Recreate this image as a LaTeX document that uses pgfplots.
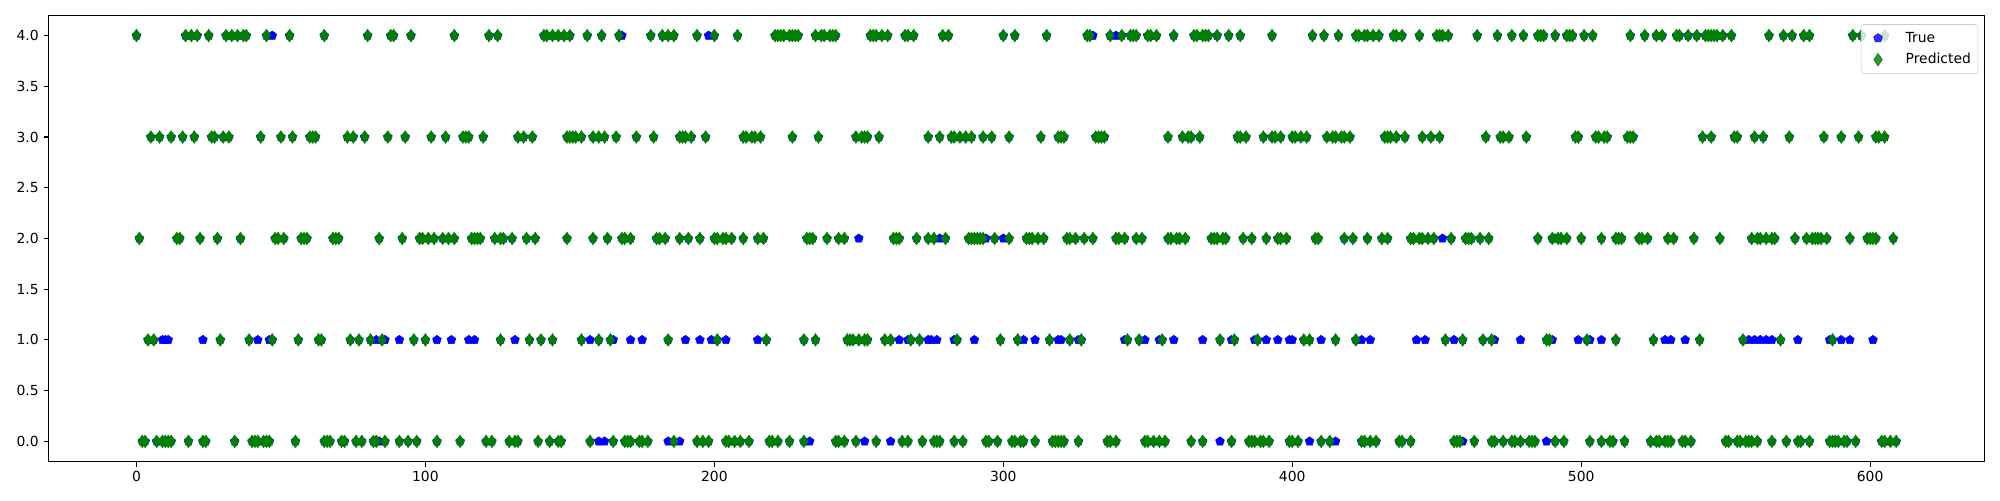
\documentclass[border=0pt]{standalone}
\usepackage{pgfplots}
\pgfplotsset{compat=1.18}
\usepackage{pgfplotstable}
\usepackage{fontspec}
\setmainfont{DejaVu Sans}
\definecolor{mplgreen}{RGB}{0,128,0}
\definecolor{mplblue}{RGB}{0,0,255}

% Predicted class for each sample
\pgfplotstableread[row sep=\\]{
x y\\
0 4\\ 17 4\\ 19 4\\ 21 4\\ 25 4\\ 31 4\\ 33 4\\ 35 4\\ 37 4\\ 38 4\\ 45 4\\ 53 4\\ 65 4\\ 80 4\\ 88 4\\ 89 4\\ 95 4\\ 110 4\\ 122 4\\ 125 4\\ 141 4\\ 142 4\\ 144 4\\ 146 4\\ 148 4\\ 150 4\\ 156 4\\ 161 4\\ 167 4\\ 178 4\\ 182 4\\ 184 4\\ 186 4\\ 194 4\\ 200 4\\ 208 4\\ 221 4\\ 222 4\\ 223 4\\ 224 4\\ 226 4\\ 227 4\\ 228 4\\ 229 4\\ 235 4\\ 237 4\\ 238 4\\ 240 4\\ 241 4\\ 242 4\\ 254 4\\ 255 4\\ 256 4\\ 258 4\\ 260 4\\ 266 4\\ 267 4\\ 269 4\\ 279 4\\ 281 4\\ 300 4\\ 304 4\\ 315 4\\ 329 4\\ 330 4\\ 337 4\\ 341 4\\ 344 4\\ 345 4\\ 346 4\\ 350 4\\ 351 4\\ 353 4\\ 359 4\\ 366 4\\ 367 4\\ 369 4\\ 370 4\\ 371 4\\ 374 4\\ 378 4\\ 382 4\\ 393 4\\ 407 4\\ 411 4\\ 416 4\\ 422 4\\ 423 4\\ 425 4\\ 426 4\\ 428 4\\ 430 4\\ 435 4\\ 436 4\\ 438 4\\ 444 4\\ 450 4\\ 451 4\\ 452 4\\ 454 4\\ 464 4\\ 471 4\\ 476 4\\ 480 4\\ 485 4\\ 486 4\\ 487 4\\ 491 4\\ 495 4\\ 496 4\\ 497 4\\ 501 4\\ 504 4\\ 517 4\\ 522 4\\ 526 4\\ 528 4\\ 533 4\\ 534 4\\ 537 4\\ 540 4\\ 543 4\\ 544 4\\ 545 4\\ 546 4\\ 547 4\\ 549 4\\ 552 4\\ 565 4\\ 570 4\\ 573 4\\ 577 4\\ 579 4\\ 594 4\\ 597 4\\ 605 4\\
5 3\\ 8 3\\ 12 3\\ 16 3\\ 20 3\\ 26 3\\ 27 3\\ 30 3\\ 32 3\\ 43 3\\ 50 3\\ 54 3\\ 60 3\\ 61 3\\ 62 3\\ 73 3\\ 75 3\\ 79 3\\ 87 3\\ 93 3\\ 102 3\\ 107 3\\ 113 3\\ 114 3\\ 115 3\\ 120 3\\ 132 3\\ 134 3\\ 137 3\\ 149 3\\ 150 3\\ 151 3\\ 152 3\\ 154 3\\ 158 3\\ 160 3\\ 162 3\\ 166 3\\ 173 3\\ 179 3\\ 188 3\\ 189 3\\ 190 3\\ 192 3\\ 197 3\\ 210 3\\ 211 3\\ 213 3\\ 214 3\\ 216 3\\ 227 3\\ 236 3\\ 249 3\\ 251 3\\ 252 3\\ 253 3\\ 257 3\\ 274 3\\ 278 3\\ 282 3\\ 283 3\\ 285 3\\ 287 3\\ 289 3\\ 293 3\\ 296 3\\ 302 3\\ 313 3\\ 319 3\\ 320 3\\ 321 3\\ 332 3\\ 333 3\\ 334 3\\ 335 3\\ 357 3\\ 362 3\\ 364 3\\ 365 3\\ 368 3\\ 381 3\\ 382 3\\ 384 3\\ 390 3\\ 393 3\\ 394 3\\ 396 3\\ 400 3\\ 401 3\\ 403 3\\ 405 3\\ 412 3\\ 414 3\\ 415 3\\ 417 3\\ 418 3\\ 420 3\\ 432 3\\ 433 3\\ 434 3\\ 436 3\\ 439 3\\ 445 3\\ 448 3\\ 451 3\\ 467 3\\ 472 3\\ 473 3\\ 475 3\\ 481 3\\ 498 3\\ 499 3\\ 505 3\\ 506 3\\ 508 3\\ 509 3\\ 516 3\\ 517 3\\ 518 3\\ 542 3\\ 545 3\\ 553 3\\ 554 3\\ 560 3\\ 563 3\\ 572 3\\ 584 3\\ 590 3\\ 596 3\\ 602 3\\ 603 3\\ 605 3\\
1 2\\ 14 2\\ 15 2\\ 22 2\\ 28 2\\ 36 2\\ 48 2\\ 49 2\\ 51 2\\ 57 2\\ 58 2\\ 59 2\\ 68 2\\ 69 2\\ 70 2\\ 84 2\\ 92 2\\ 98 2\\ 99 2\\ 101 2\\ 103 2\\ 106 2\\ 108 2\\ 110 2\\ 116 2\\ 117 2\\ 118 2\\ 119 2\\ 124 2\\ 126 2\\ 127 2\\ 130 2\\ 135 2\\ 138 2\\ 149 2\\ 158 2\\ 163 2\\ 168 2\\ 169 2\\ 171 2\\ 180 2\\ 181 2\\ 183 2\\ 188 2\\ 191 2\\ 195 2\\ 200 2\\ 201 2\\ 203 2\\ 204 2\\ 206 2\\ 210 2\\ 215 2\\ 217 2\\ 232 2\\ 233 2\\ 234 2\\ 239 2\\ 243 2\\ 245 2\\ 262 2\\ 263 2\\ 264 2\\ 270 2\\ 274 2\\ 276 2\\ 280 2\\ 288 2\\ 289 2\\ 290 2\\ 291 2\\ 292 2\\ 293 2\\ 297 2\\ 302 2\\ 308 2\\ 309 2\\ 310 2\\ 312 2\\ 314 2\\ 322 2\\ 323 2\\ 325 2\\ 328 2\\ 331 2\\ 339 2\\ 340 2\\ 342 2\\ 346 2\\ 348 2\\ 357 2\\ 358 2\\ 360 2\\ 361 2\\ 363 2\\ 372 2\\ 373 2\\ 374 2\\ 376 2\\ 377 2\\ 383 2\\ 386 2\\ 391 2\\ 395 2\\ 396 2\\ 398 2\\ 408 2\\ 409 2\\ 418 2\\ 421 2\\ 426 2\\ 431 2\\ 433 2\\ 441 2\\ 442 2\\ 444 2\\ 445 2\\ 447 2\\ 449 2\\ 455 2\\ 460 2\\ 461 2\\ 462 2\\ 465 2\\ 468 2\\ 485 2\\ 490 2\\ 492 2\\ 493 2\\ 495 2\\ 500 2\\ 507 2\\ 512 2\\ 513 2\\ 514 2\\ 520 2\\ 521 2\\ 523 2\\ 530 2\\ 532 2\\ 539 2\\ 548 2\\ 559 2\\ 561 2\\ 562 2\\ 564 2\\ 566 2\\ 567 2\\ 574 2\\ 578 2\\ 580 2\\ 581 2\\ 582 2\\ 583 2\\ 585 2\\ 593 2\\ 599 2\\ 600 2\\ 601 2\\ 602 2\\ 608 2\\
4 1\\ 6 1\\ 29 1\\ 39 1\\ 47 1\\ 56 1\\ 63 1\\ 64 1\\ 74 1\\ 77 1\\ 81 1\\ 85 1\\ 96 1\\ 100 1\\ 126 1\\ 136 1\\ 140 1\\ 144 1\\ 154 1\\ 160 1\\ 164 1\\ 184 1\\ 201 1\\ 218 1\\ 231 1\\ 235 1\\ 246 1\\ 247 1\\ 248 1\\ 250 1\\ 252 1\\ 253 1\\ 259 1\\ 261 1\\ 268 1\\ 271 1\\ 284 1\\ 299 1\\ 305 1\\ 316 1\\ 323 1\\ 327 1\\ 343 1\\ 347 1\\ 355 1\\ 375 1\\ 380 1\\ 388 1\\ 404 1\\ 406 1\\ 415 1\\ 422 1\\ 453 1\\ 459 1\\ 466 1\\ 469 1\\ 488 1\\ 489 1\\ 502 1\\ 512 1\\ 525 1\\ 541 1\\ 556 1\\ 569 1\\ 587 1\\
2 0\\ 3 0\\ 7 0\\ 9 0\\ 10 0\\ 11 0\\ 12 0\\ 18 0\\ 23 0\\ 24 0\\ 34 0\\ 40 0\\ 41 0\\ 42 0\\ 44 0\\ 45 0\\ 46 0\\ 55 0\\ 65 0\\ 66 0\\ 67 0\\ 71 0\\ 72 0\\ 76 0\\ 78 0\\ 82 0\\ 83 0\\ 86 0\\ 91 0\\ 94 0\\ 97 0\\ 104 0\\ 112 0\\ 121 0\\ 123 0\\ 129 0\\ 131 0\\ 132 0\\ 139 0\\ 143 0\\ 146 0\\ 147 0\\ 157 0\\ 165 0\\ 169 0\\ 170 0\\ 171 0\\ 174 0\\ 175 0\\ 177 0\\ 186 0\\ 194 0\\ 196 0\\ 198 0\\ 204 0\\ 205 0\\ 207 0\\ 209 0\\ 212 0\\ 219 0\\ 220 0\\ 222 0\\ 226 0\\ 231 0\\ 242 0\\ 243 0\\ 245 0\\ 249 0\\ 256 0\\ 265 0\\ 267 0\\ 272 0\\ 276 0\\ 277 0\\ 278 0\\ 283 0\\ 286 0\\ 294 0\\ 295 0\\ 298 0\\ 303 0\\ 304 0\\ 306 0\\ 307 0\\ 311 0\\ 317 0\\ 318 0\\ 319 0\\ 320 0\\ 321 0\\ 326 0\\ 336 0\\ 337 0\\ 339 0\\ 349 0\\ 350 0\\ 352 0\\ 354 0\\ 356 0\\ 365 0\\ 369 0\\ 379 0\\ 385 0\\ 386 0\\ 387 0\\ 389 0\\ 390 0\\ 392 0\\ 399 0\\ 400 0\\ 402 0\\ 410 0\\ 413 0\\ 424 0\\ 425 0\\ 427 0\\ 429 0\\ 437 0\\ 438 0\\ 441 0\\ 456 0\\ 457 0\\ 458 0\\ 463 0\\ 469 0\\ 470 0\\ 473 0\\ 476 0\\ 477 0\\ 479 0\\ 482 0\\ 483 0\\ 484 0\\ 491 0\\ 494 0\\ 503 0\\ 507 0\\ 510 0\\ 511 0\\ 515 0\\ 524 0\\ 526 0\\ 527 0\\ 529 0\\ 530 0\\ 531 0\\ 535 0\\ 536 0\\ 538 0\\ 550 0\\ 551 0\\ 554 0\\ 555 0\\ 557 0\\ 558 0\\ 559 0\\ 561 0\\ 566 0\\ 571 0\\ 575 0\\ 576 0\\ 579 0\\ 586 0\\ 587 0\\ 588 0\\ 589 0\\ 591 0\\ 592 0\\ 595 0\\ 604 0\\ 605 0\\ 607 0\\ 609 0\\
}\pred

% True class where it differs from the prediction
\pgfplotstableread[row sep=\\]{
x y\\
47 4\\ 168 4\\ 198 4\\ 331 4\\ 339 4\\
250 2\\ 278 2\\ 294 2\\ 300 2\\ 452 2\\ 491 2\\
9 1\\ 10 1\\ 11 1\\ 23 1\\ 42 1\\ 46 1\\ 83 1\\ 86 1\\ 91 1\\ 104 1\\ 109 1\\ 115 1\\ 117 1\\ 131 1\\ 157 1\\ 165 1\\ 171 1\\ 175 1\\ 190 1\\ 195 1\\ 199 1\\ 204 1\\ 215 1\\ 264 1\\ 267 1\\ 274 1\\ 275 1\\ 277 1\\ 283 1\\ 290 1\\ 307 1\\ 311 1\\ 319 1\\ 320 1\\ 326 1\\ 342 1\\ 349 1\\ 354 1\\ 359 1\\ 369 1\\ 379 1\\ 387 1\\ 391 1\\ 395 1\\ 399 1\\ 400 1\\ 410 1\\ 424 1\\ 427 1\\ 443 1\\ 446 1\\ 456 1\\ 470 1\\ 479 1\\ 490 1\\ 499 1\\ 503 1\\ 507 1\\ 529 1\\ 531 1\\ 536 1\\ 558 1\\ 560 1\\ 562 1\\ 564 1\\ 566 1\\ 575 1\\ 586 1\\ 590 1\\ 593 1\\ 601 1\\
84 0\\ 160 0\\ 162 0\\ 184 0\\ 188 0\\ 233 0\\ 252 0\\ 261 0\\ 375 0\\ 406 0\\ 415 0\\ 459 0\\ 488 0\\
}\trueonly

\begin{document}
\begin{tikzpicture}
\begin{axis}[
  scale only axis,
  width=1393.6pt, height=321.4pt,
  xmin=-30.45, xmax=639.45, ymin=-0.2, ymax=4.2,
  xtick={0,100,200,300,400,500,600},
  ytick={0,0.5,1,1.5,2,2.5,3,3.5,4},
  yticklabel style={/pgf/number format/.cd, fixed, fixed zerofill, precision=1},
  /pgf/number format/assume math mode=true,
  tick align=outside, tick pos=left,
  major tick length=3.5pt,
  tick style={black, line width=0.8pt},
  axis line style={line width=0.8pt},
  ticklabel style={font=\fontsize{10}{12}\selectfont},
  legend style={at={(0.9969,0.9800)}, anchor=north east,
    draw=black!20, fill=white, fill opacity=0.8, text opacity=1, draw opacity=1,
    rounded corners=2pt, font=\fontsize{10}{12}\selectfont,
    row sep=2.5pt, inner xsep=3pt, inner ysep=3.5pt},
  legend cell align=left,
  legend image code/.code={\path[draw=none,fill=none] (-0.66pt,0pt) -- (26.44pt,0pt);
    \draw[#1] plot coordinates {(0.3cm,0cm)};},
]
\addplot[only marks, mark=pentagon*, mark size=3.3pt, color=mplblue] table {\pred};
\addlegendentry{True}
\addplot[only marks, mark=pentagon*, mark size=3.3pt, color=mplblue, forget plot] table {\trueonly};
\addplot[only marks, mark=diamond*, mark size=4.55pt, color=mplgreen, mark options={xscale=0.9}] table {\pred};
\addlegendentry{Predicted}
\end{axis}
\path (-34.9pt,-27.6pt) rectangle (1405.1pt,332.4pt);
\end{tikzpicture}
\end{document}
